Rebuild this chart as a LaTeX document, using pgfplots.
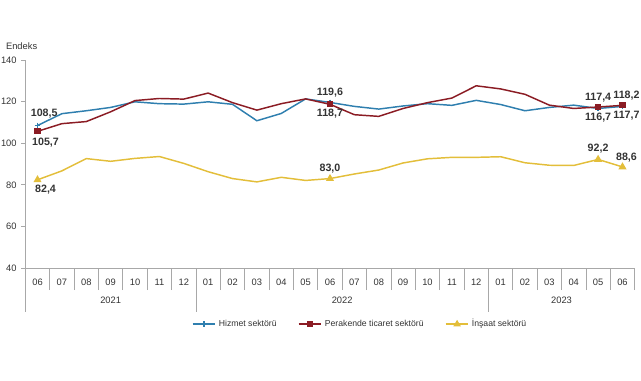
\documentclass[border=0pt]{standalone}
\usepackage{pgfplots}
\pgfplotsset{compat=1.18}
\usepackage{fontspec}
\setmainfont{Liberation Sans}
\definecolor{hizc}{HTML}{2F7FAF}
\definecolor{perc}{HTML}{8B1C24}
\definecolor{insc}{HTML}{E3BE3A}
\definecolor{axc}{HTML}{A8A8A8}
\definecolor{txc}{HTML}{333333}

\pgfplotstableread{
i hiz per ins
0 108.5 105.7 82.4
1 114.2 109.4 86.7
2 115.6 110.4 92.6
3 117.2 115.1 91.3
4 119.9 120.5 92.7
5 119.0 121.5 93.6
6 118.8 121.2 90.3
7 119.9 124.1 86.3
8 118.7 119.5 83.0
9 110.8 115.9 81.4
10 114.3 119.0 83.6
11 121.3 121.3 82.1
12 119.6 118.7 83.0
13 117.7 113.7 85.2
14 116.4 112.9 87.1
15 117.9 116.7 90.5
16 119.0 119.5 92.5
17 118.2 121.7 93.2
18 120.6 127.6 93.2
19 118.6 126.1 93.5
20 115.6 123.5 90.6
21 117.2 118.3 89.4
22 118.3 116.7 89.3
23 116.7 117.4 92.2
24 117.7 118.2 88.6
}\datatable

\begin{document}
\begin{tikzpicture}
\useasboundingbox (0,0) rectangle (480.75pt,285pt);
\begin{axis}[
  at={(19pt,84pt)}, anchor=south west,
  width=457pt, height=156pt, scale only axis,
  xmin=-0.5, xmax=24.5, ymin=40, ymax=140,
  ytick={40,60,...,140},
  xtick={0,...,24},
  xticklabels={06,07,08,09,10,11,12,01,02,03,04,05,06,07,08,09,10,11,12,01,02,03,04,05,06},
  minor xtick={-0.5,0.5,...,24.5},
  axis x line*=bottom, axis y line*=left,
  axis line style={draw=axc, line width=0.6pt},
  tick align=outside,
  major tick length=3pt,
  minor tick length=16.5pt,
  major x tick style={draw=none},
  minor x tick style={draw=axc, line width=0.5pt},
  major y tick style={draw=axc, line width=0.5pt},
  /pgf/number format/assume math mode=true,
  tick label style={font=\fontsize{7}{8}\selectfont, text=txc},
  xticklabel style={yshift=-2pt},
  clip=false,
  legend style={at={(0.55,-0.27)}, anchor=center, draw=none, fill=none,
    legend columns=3, font=\fontsize{6.5}{8}\selectfont, text=txc,
    /tikz/every even column/.append style={column sep=14pt}},
  legend cell align=left,
]
\addlegendimage{hizc, line width=1.1pt, mark=+, mark size=2.2pt}
\addlegendentry{Hizmet sektörü}
\addlegendimage{perc, line width=1.1pt, mark=square*, mark size=1.8pt}
\addlegendentry{Perakende ticaret sektörü}
\addlegendimage{insc, line width=1.1pt, mark=triangle*, mark size=2.2pt}
\addlegendentry{İnşaat sektörü}

\addplot[forget plot, hizc, line width=1.1pt, mark=+, mark size=2.2pt, mark indices={1,13,24,25}] table[x=i, y=hiz] {\datatable};
\addplot[forget plot, perc, line width=1.1pt, mark=square*, mark size=1.8pt, mark indices={1,13,24,25}] table[x=i, y=per] {\datatable};
\addplot[forget plot, insc, line width=1.1pt, mark=triangle*, mark size=2.4pt, mark indices={1,13,24,25}] table[x=i, y=ins] {\datatable};

\draw[axc, line width=0.5pt] (axis cs:-0.5,40) -- ++(0pt,-33pt);
\draw[axc, line width=0.5pt] (axis cs:6.5,40) -- ++(0pt,-33pt);
\draw[axc, line width=0.5pt] (axis cs:18.5,40) -- ++(0pt,-33pt);
\node[font=\fontsize{7}{8}\selectfont, text=txc] at (axis cs:3,40) [yshift=-24pt] {2021};
\node[font=\fontsize{7}{8}\selectfont, text=txc] at (axis cs:12.5,40) [yshift=-24pt] {2022};
\node[font=\fontsize{7}{8}\selectfont, text=txc] at (axis cs:21.5,40) [yshift=-24pt] {2023};

\tikzset{lbl/.style={font=\fontsize{8}{9}\selectfont\bfseries, text=txc, inner sep=1.5pt}}
\node[lbl, anchor=south, xshift=5pt, yshift=4pt] at (axis cs:0,108.5) {108,5};
\node[lbl, anchor=north, xshift=6pt, yshift=-3pt] at (axis cs:0,105.7) {105,7};
\node[lbl, anchor=north, xshift=6pt, yshift=-2pt] at (axis cs:0,82.4) {82,4};
\node[lbl, anchor=south, yshift=2pt] at (axis cs:12,119.6) {119,6};
\node[lbl, anchor=north, yshift=-2pt] at (axis cs:12,118.7) {118,7};
\node[lbl, anchor=south, yshift=2pt] at (axis cs:12,83.0) {83,0};
\node[lbl, anchor=south, yshift=2pt] at (axis cs:23,117.4) {117,4};
\node[lbl, anchor=north, yshift=-2pt] at (axis cs:23,116.7) {116,7};
\node[lbl, anchor=south, yshift=2pt, xshift=3pt] at (axis cs:24,118.2) {118,2};
\node[lbl, anchor=north, yshift=-2pt, xshift=3pt] at (axis cs:24,117.7) {117,7};
\node[lbl, anchor=south, yshift=3pt] at (axis cs:23,92.2) {92,2};
\node[lbl, anchor=south, yshift=2pt, xshift=3pt] at (axis cs:24,88.6) {88,6};

\node[font=\fontsize{7}{8}\selectfont, text=txc, anchor=south west] at (rel axis cs:0,1) [xshift=-18pt, yshift=4pt] {Endeks};
\end{axis}
\end{tikzpicture}
\end{document}
